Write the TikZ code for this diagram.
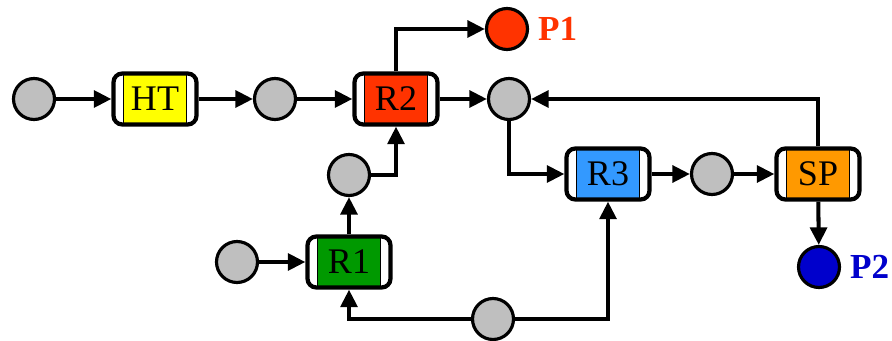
\documentclass[tikz,border=0pt]{standalone}
\usepackage{fontspec}
\setmainfont{Liberation Serif}
\usetikzlibrary{arrows.meta,positioning}
\definecolor{htyellow}{RGB}{255,255,0}
\definecolor{rtwo}{RGB}{255,51,0}
\definecolor{rthree}{RGB}{51,153,255}
\definecolor{sporange}{RGB}{255,153,0}
\definecolor{rone}{RGB}{0,153,0}
\definecolor{ptwo}{RGB}{0,0,204}
\tikzset{
  proc/.style={draw, line width=2.4pt, rounded corners=5pt, fill=white,
    minimum width=1.66cm, minimum height=1.02cm, inner sep=0pt,
    font=\fontsize{20.5}{22}\selectfont,
    path picture={\draw[fill=#1, line width=0.7pt, sharp corners]
      ([xshift=0.2cm]path picture bounding box.south west) rectangle
      ([xshift=-0.2cm]path picture bounding box.north east);}},
  junc/.style={circle, draw, line width=1.8pt, fill=gray!50, minimum size=0.82cm, inner sep=0pt},
  prod/.style={junc, fill=#1},
  plab/.style={font=\fontsize{20}{22}\selectfont\bfseries, inner sep=1pt},
  flow/.style={line width=2.3pt, -{Triangle[length=10pt,width=9.5pt]}}
}
\begin{document}
\begin{tikzpicture}[x=0.02cm,y=-0.02cm]
  \useasboundingbox (0,0) rectangle (892,341);
  % units and streams
  \node[junc] (in1) at (34,99) {};
  \node[proc=htyellow] (HT) at (155,99) {HT};
  \node[junc] (s1) at (275,99) {};
  \node[proc=rtwo] (R2) at (396,99) {R2};
  \node[prod=rtwo] (P1) at (507,29) {};
  \node[plab, text=rtwo, right=4pt of P1] (P1lab) {P1};
  \node[junc] (mix) at (509,99) {};
  \node[proc=rthree] (R3) at (608,174) {R3};
  \node[junc] (s3) at (712,174) {};
  \node[proc=sporange] (SP) at (818,174) {SP};
  \node[prod=ptwo] (P2) at (819,267) {};
  \node[plab, text=ptwo, right=4pt of P2] (P2lab) {P2};
  \node[junc] (s2) at (349,175) {};
  \node[junc] (in2) at (237,262) {};
  \node[proc=rone] (R1) at (349,262) {R1};
  \node[junc] (rec) at (493,319) {};
  % connections
  \draw[flow] (in1) -- (HT);
  \draw[flow] (HT) -- (s1);
  \draw[flow] (s1) -- (R2);
  \draw[flow] (R2) |- (P1);
  \draw[flow] (R2) -- (mix);
  \draw[flow] (mix) |- (R3);
  \draw[flow] (R3) -- (s3);
  \draw[flow] (s3) -- (SP);
  \draw[flow] (SP) |- (mix);
  \draw[flow] (SP) -- (P2);
  \draw[flow] (in2) -- (R1);
  \draw[flow] (R1) -- (s2);
  \draw[flow] (s2) -| (R2);
  \draw[flow] (rec) -| (R1);
  \draw[flow] (rec) -| (R3);
\end{tikzpicture}
\end{document}
